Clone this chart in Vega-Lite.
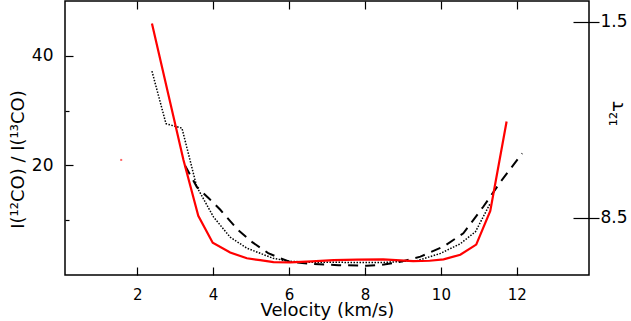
{
  "$schema": "https://vega.github.io/schema/vega-lite/v6.json",
  "width": 524,
  "height": 274,
  "autosize": "none",
  "padding": {"left": 65, "top": 1, "right": 42, "bottom": 46},
  "background": "white",
  "config": {
    "view": {"stroke": "black", "strokeWidth": 1.5},
    "axis": {
      "grid": false,
      "domain": false,
      "labelFont": "DejaVu Sans",
      "labelFontSize": 17,
      "labelColor": "black",
      "titleFont": "DejaVu Sans",
      "titleFontSize": 18,
      "titleFontWeight": "normal",
      "titleColor": "black",
      "tickColor": "black",
      "tickWidth": 1.2
    }
  },
  "datasets": {
    "obs": [
      {"v": 2.39, "r": 45.9},
      {"v": 3.22, "r": 21.0},
      {"v": 3.61, "r": 10.8},
      {"v": 3.99, "r": 5.9},
      {"v": 4.45, "r": 4.1},
      {"v": 4.89, "r": 3.05},
      {"v": 5.24, "r": 2.7},
      {"v": 5.59, "r": 2.35},
      {"v": 6.03, "r": 2.3},
      {"v": 6.6, "r": 2.5},
      {"v": 7.17, "r": 2.7},
      {"v": 7.8, "r": 2.8},
      {"v": 8.48, "r": 2.85},
      {"v": 9.27, "r": 2.55},
      {"v": 9.7, "r": 2.6},
      {"v": 10.07, "r": 2.85},
      {"v": 10.51, "r": 3.7},
      {"v": 10.93, "r": 5.55},
      {"v": 11.3, "r": 11.7},
      {"v": 11.73, "r": 28.0}
    ],
    "dot": [
      {"v": 2.39, "r": 37.2},
      {"v": 2.76, "r": 27.6},
      {"v": 3.18, "r": 26.8},
      {"v": 3.57, "r": 16.1},
      {"v": 4.01, "r": 10.6},
      {"v": 4.45, "r": 6.9},
      {"v": 4.89, "r": 4.9},
      {"v": 5.58, "r": 3.05},
      {"v": 6.0, "r": 2.5},
      {"v": 6.5, "r": 2.35},
      {"v": 7.5, "r": 2.3},
      {"v": 8.5, "r": 2.3},
      {"v": 9.37, "r": 2.6},
      {"v": 9.99, "r": 3.95},
      {"v": 10.51, "r": 5.7},
      {"v": 10.91, "r": 7.9},
      {"v": 11.3, "r": 13.1}
    ],
    "dash": [
      {"v": 3.26, "r": 20.0},
      {"v": 3.57, "r": 16.1},
      {"v": 3.9, "r": 13.9},
      {"v": 4.19, "r": 11.9},
      {"v": 4.66, "r": 8.2},
      {"v": 5.03, "r": 6.0},
      {"v": 5.45, "r": 4.0},
      {"v": 5.75, "r": 3.1},
      {"v": 6.03, "r": 2.4},
      {"v": 6.64, "r": 2.0},
      {"v": 7.3, "r": 1.8},
      {"v": 8.05, "r": 1.7},
      {"v": 8.5, "r": 1.9},
      {"v": 8.93, "r": 2.4},
      {"v": 9.46, "r": 3.35},
      {"v": 10.07, "r": 5.2},
      {"v": 10.59, "r": 7.6},
      {"v": 11.12, "r": 12.5},
      {"v": 11.57, "r": 17.0},
      {"v": 12.14, "r": 22.2}
    ],
    "speck": [{"v": 1.58, "r": 21.0}],
    "tau": [{"tau": 1.5}, {"tau": 8.5}]
  },
  "layer": [
    {
      "layer": [
        {
          "data": {"name": "dash"},
          "mark": {"type": "line", "clip": true, "color": "black", "strokeWidth": 2, "strokeDash": [10, 7]},
          "encoding": {
            "x": {
              "field": "v", "type": "quantitative",
              "scale": {"domain": [0.1, 13.9], "nice": false, "zero": false},
              "axis": {"orient": "bottom", "values": [2, 4, 6, 8, 10, 12], "tickSize": -8, "labelPadding": 20, "labelFontSize": 15, "title": "Velocity (km/s)", "titleBaseline": "top", "titleY": 26}
            },
            "y": {
              "field": "r", "type": "quantitative",
              "scale": {"domain": [0, 50], "nice": false, "zero": false},
              "axis": {"orient": "left", "values": [20, 40], "tickSize": -8, "labelPadding": 20, "title": "I(¹²CO) / I(¹³CO)", "titleAngle": -90, "titleX": -47, "titleY": 158, "titleBaseline": "middle", "titleAlign": "center"}
            }
          }
        },
        {
          "data": {"name": "dot"},
          "mark": {"type": "line", "clip": true, "color": "black", "strokeWidth": 1.5, "strokeDash": [1.5, 1.5]},
          "encoding": {
            "x": {
              "field": "v", "type": "quantitative",
              "axis": {"orient": "top", "values": [2, 4, 6, 8, 10, 12], "tickSize": -8, "labels": false, "title": null}
            },
            "y": {
              "field": "r", "type": "quantitative",
              "axis": {"orient": "left", "values": [10, 30], "tickSize": -4, "labels": false, "title": null}
            }
          }
        },
        {
          "data": {"name": "obs"},
          "mark": {"type": "line", "clip": true, "color": "#ff0000", "strokeWidth": 2.2},
          "encoding": {
            "x": {"field": "v", "type": "quantitative", "axis": null},
            "y": {"field": "r", "type": "quantitative", "axis": null}
          }
        },
        {
          "data": {"name": "speck"},
          "mark": {"type": "point", "shape": "square", "filled": true, "size": 4, "color": "#ff0000", "opacity": 0.6},
          "encoding": {
            "x": {"field": "v", "type": "quantitative", "axis": null},
            "y": {"field": "r", "type": "quantitative", "axis": null}
          }
        }
      ],
      "resolve": {"axis": {"x": "independent", "y": "independent"}}
    },
    {
      "data": {"name": "tau"},
      "mark": {"type": "rule", "opacity": 0},
      "encoding": {
        "y": {
          "field": "tau", "type": "quantitative",
          "scale": {"domain": [0.75, 10.536], "reverse": true, "nice": false, "zero": false},
          "axis": {"orient": "right", "values": [1.5, 8.5], "format": ".1f", "offset": -16, "tickSize": 26, "labelPadding": 1, "title": "¹²τ", "titleAngle": -90, "titleX": 49, "titleY": 112, "titleBaseline": "alphabetic", "titleAlign": "center"}
        }
      }
    }
  ],
  "resolve": {"scale": {"y": "independent"}, "axis": {"y": "independent"}}
}
